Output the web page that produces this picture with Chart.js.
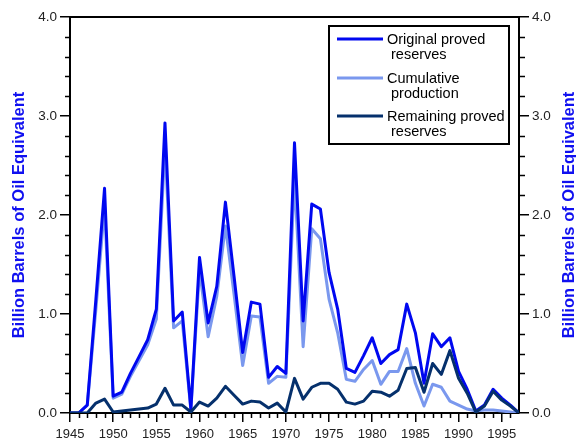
<!DOCTYPE html>
<html>
<head>
<meta charset="utf-8">
<script src="https://cdn.jsdelivr.net/npm/chart.js@4.4.1/dist/chart.umd.min.js"></script>
<style>
  html, body { margin: 0; padding: 0; background: #fff; }
  #wrap { width: 576px; height: 441px; }
</style>
</head>
<body>
<div id="wrap"><canvas id="chart" width="576" height="441"></canvas></div>
<script>
const years = [1945, 1946, 1947, 1948, 1949, 1950, 1951, 1952, 1953, 1954,
  1955, 1956, 1957, 1958, 1959, 1960, 1961, 1962, 1963, 1964,
  1965, 1966, 1967, 1968, 1969, 1970, 1971, 1972, 1973, 1974,
  1975, 1976, 1977, 1978, 1979, 1980, 1981, 1982, 1983, 1984,
  1985, 1986, 1987, 1988, 1989, 1990, 1991, 1992, 1993, 1994,
  1995, 1996, 1997];

const originalReserves = [0, 0, 0.08, 1.15, 2.27, 0.17, 0.21, 0.40, 0.57, 0.74,
  1.05, 2.93, 0.93, 1.02, 0.04, 1.57, 0.91, 1.28, 2.13, 1.38,
  0.61, 1.12, 1.10, 0.36, 0.47, 0.40, 2.73, 0.93, 2.11, 2.06,
  1.42, 1.05, 0.45, 0.41, 0.58, 0.76, 0.50, 0.59, 0.64, 1.10,
  0.81, 0.30, 0.80, 0.67, 0.76, 0.42, 0.24, 0.02, 0.08, 0.24,
  0.15, 0.08, 0];

const cumulativeProduction = [0, 0, 0.08, 1.05, 2.09, 0.15, 0.19, 0.37, 0.53, 0.69,
  0.95, 2.70, 0.86, 0.93, 0.03, 1.45, 0.77, 1.18, 1.89, 1.20,
  0.48, 0.98, 0.97, 0.30, 0.37, 0.36, 2.38, 0.67, 1.86, 1.76,
  1.15, 0.81, 0.34, 0.32, 0.44, 0.53, 0.29, 0.42, 0.42, 0.65,
  0.30, 0.07, 0.29, 0.26, 0.12, 0.08, 0.04, 0.02, 0.03, 0.03,
  0.02, 0.01, 0];

const remainingReserves = [0, 0, 0, 0.10, 0.14, 0.01, 0.02, 0.03, 0.04, 0.05,
  0.09, 0.25, 0.08, 0.08, 0.01, 0.11, 0.07, 0.15, 0.27, 0.18,
  0.09, 0.12, 0.11, 0.05, 0.10, 0.01, 0.35, 0.14, 0.26, 0.30,
  0.30, 0.24, 0.11, 0.09, 0.12, 0.22, 0.21, 0.17, 0.23, 0.45,
  0.46, 0.21, 0.50, 0.39, 0.63, 0.35, 0.20, 0.01, 0.07, 0.22,
  0.13, 0.07, 0];

const seriesNames = [
  ["Original proved", "reserves"],
  ["Cumulative", "production"],
  ["Remaining proved", "reserves"]
];
const xTickYears = [1945, 1950, 1955, 1960, 1965, 1970, 1975, 1980, 1985, 1990, 1995];
const yTickValues = [0, 1, 2, 3, 4];
const yTitle = "Billion Barrels of Oil Equivalent";

const colors = ["#0008f0", "#7a98ee", "#05306c"];

function pts(vals) {
  return years.map((y, i) => ({ x: y, y: vals[i] }));
}

const tickFont = { family: "Arial, 'Liberation Sans', sans-serif", size: 13.5 };
const titleFont = { family: "Arial, 'Liberation Sans', sans-serif", size: 16.5, weight: "bold" };

// minor ticks, frame top, right title and boxed legend
const decorations = {
  id: "decorations",
  afterDraw(chart) {
    const ctx = chart.ctx;
    const a = chart.chartArea;
    const sx = chart.scales.x, sy = chart.scales.y;
    ctx.save();
    ctx.strokeStyle = "#000";
    ctx.lineWidth = 2;
    ctx.beginPath();
    ctx.moveTo(a.left - 1, a.top);
    ctx.lineTo(a.right + 1, a.top);
    ctx.stroke();

    ctx.lineWidth = 1.5;
    ctx.beginPath();
    years.forEach(y => {
      if (y % 5 === 0 || y === years[years.length - 1]) return;
      const px = Math.round(sx.getPixelForValue(y)) + 0.5;
      ctx.moveTo(px, a.bottom);
      ctx.lineTo(px, a.bottom + 5);
    });
    for (let v = 0.2; v < 4; v += 0.2) {
      if (Math.abs(v - Math.round(v)) < 0.01) continue;
      const py = Math.round(sy.getPixelForValue(v)) + 0.5;
      ctx.moveTo(a.left, py);
      ctx.lineTo(a.left - 5, py);
      ctx.moveTo(a.right, py);
      ctx.lineTo(a.right + 6, py);
    }
    ctx.stroke();

    // right axis title reads bottom to top like the left one
    ctx.fillStyle = "#1010f0";
    ctx.font = "bold 16.5px Arial, 'Liberation Sans', sans-serif";
    ctx.textAlign = "center";
    ctx.textBaseline = "middle";
    ctx.translate(569, (a.top + a.bottom) / 2);
    ctx.rotate(-Math.PI / 2);
    ctx.fillText(yTitle, 0, 0);
    ctx.restore();

    // legend
    ctx.save();
    const bx = 329, by = 26, bw = 180, bh = 118;
    ctx.fillStyle = "#fff";
    ctx.fillRect(bx, by, bw, bh);
    ctx.strokeStyle = "#000";
    ctx.lineWidth = 2;
    ctx.strokeRect(bx, by, bw, bh);
    ctx.font = "14.5px Arial, 'Liberation Sans', sans-serif";
    ctx.textBaseline = "middle";
    ctx.textAlign = "left";
    const rowY = [40, 79, 117];
    seriesNames.forEach((lines, i) => {
      const y = rowY[i];
      ctx.strokeStyle = colors[i];
      ctx.lineWidth = 3;
      ctx.beginPath();
      ctx.moveTo(337, y - 1);
      ctx.lineTo(383, y - 1);
      ctx.stroke();
      ctx.fillStyle = "#000";
      ctx.fillText(lines[0], 387, y);
      ctx.fillText(lines[1], 391, y + 15);
    });
    ctx.restore();
  }
};

new Chart(document.getElementById("chart").getContext("2d"), {
  type: "line",
  data: {
    datasets: [
      { label: seriesNames[0].join(" "), data: pts(originalReserves), borderColor: colors[0], order: 1 },
      { label: seriesNames[1].join(" "), data: pts(cumulativeProduction), borderColor: colors[1], order: 2 },
      { label: seriesNames[2].join(" "), data: pts(remainingReserves), borderColor: colors[2], order: 0 }
    ]
  },
  options: {
    responsive: false,
    animation: false,
    devicePixelRatio: 1,
    layout: { padding: { top: 17, left: 0, right: 0, bottom: 0 } },
    elements: {
      line: { borderWidth: 3, tension: 0, fill: false, borderJoinStyle: "round" },
      point: { radius: 0 }
    },
    plugins: { legend: { display: false }, tooltip: { enabled: false } },
    scales: {
      x: {
        type: "linear",
        min: 1945,
        max: 1997,
        afterBuildTicks: s => { s.ticks = xTickYears.map(v => ({ value: v })); },
        afterFit: s => { s.height = 28; },
        ticks: { font: { ...tickFont, size: 13 }, color: "#222", padding: 5, maxRotation: 0, autoSkip: false, callback: v => String(v) },
        grid: { drawOnChartArea: false, drawTicks: true, tickLength: 9, color: "#000", lineWidth: 1.5 },
        border: { display: true, color: "#000", width: 2 }
      },
      y: {
        position: "left",
        min: 0,
        max: 4,
        afterBuildTicks: s => { s.ticks = yTickValues.map(v => ({ value: v })); },
        afterFit: s => { s.width = 70; },
        ticks: { font: tickFont, color: "#222", padding: 3, callback: v => v.toFixed(1) },
        grid: { drawOnChartArea: false, drawTicks: true, tickLength: 10, color: "#000", lineWidth: 1.5 },
        border: { display: true, color: "#000", width: 2 },
        title: { display: true, text: yTitle, color: "#1010f0", font: titleFont, padding: { top: 10, bottom: 0 } }
      },
      y2: {
        position: "right",
        min: 0,
        max: 4,
        afterBuildTicks: s => { s.ticks = yTickValues.map(v => ({ value: v })); },
        afterFit: s => { s.width = 57; },
        ticks: { font: tickFont, color: "#222", padding: 3, callback: v => v.toFixed(1) },
        grid: { drawOnChartArea: false, drawTicks: true, tickLength: 10, color: "#000", lineWidth: 1.5 },
        border: { display: true, color: "#000", width: 2 }
      }
    }
  },
  plugins: [decorations]
});
</script>
</body>
</html>
